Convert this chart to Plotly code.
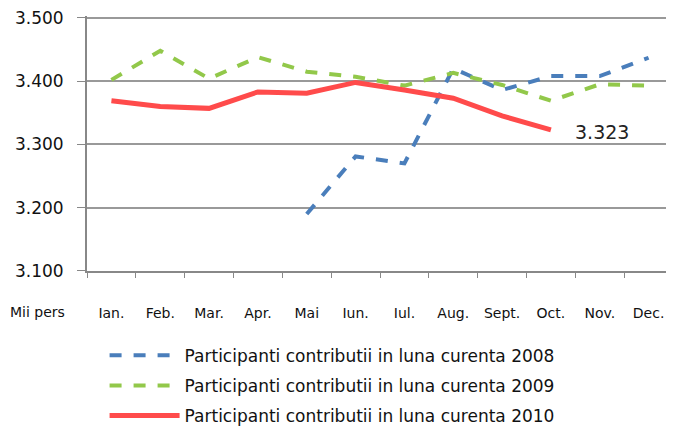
import plotly.graph_objects as go

months = ["Ian.", "Feb.", "Mar.", "Apr.", "Mai", "Iun.", "Iul.", "Aug.", "Sept.", "Oct.", "Nov.", "Dec."]
s2008 = [None, None, None, None, 3.190, 3.281, 3.270, 3.420, 3.386, 3.408, 3.408, 3.437]
s2009 = [3.402, 3.448, 3.404, 3.438, 3.415, 3.407, 3.393, 3.413, 3.394, 3.369, 3.395, 3.393]
s2010 = [3.369, 3.360, 3.357, 3.383, 3.381, 3.398, 3.386, 3.373, 3.345, 3.323, None, None]
names = ["Participanti contributii in luna curenta 2008",
         "Participanti contributii in luna curenta 2009",
         "Participanti contributii in luna curenta 2010"]
yticks = [3.1, 3.2, 3.3, 3.4, 3.5]
last_label = "3.323"

FONT = "DejaVu Sans"
fig = go.Figure()
fig.add_trace(go.Scatter(x=months, y=s2008, mode="lines", name=names[0], legendgroup="a",
                         line=dict(color="#4A7EBB", width=4, dash="dash")))
fig.add_trace(go.Scatter(x=months, y=s2009, mode="lines", name=names[1], legendgroup="b",
                         line=dict(color="#92C84A", width=4, dash="dash")))
fig.add_trace(go.Scatter(x=months, y=s2010, mode="lines", name=names[2], legendgroup="c",
                         line=dict(color="#FF4B4B", width=5)))

PW = 586
PH = 255
fig.add_annotation(x="Oct.", y=s2010[9], text=last_label, showarrow=False, xanchor="left",
                   xshift=22, yshift=-2, font=dict(family=FONT, size=19, color="#222"))
fig.add_annotation(xref="paper", yref="paper", x=-79/PW, y=-41/PH, text="Mii pers",
                   showarrow=False, xanchor="left", yanchor="middle",
                   font=dict(family=FONT, size=14, color="#111"))

fig.update_layout(
    width=666, height=429,
    margin=dict(l=79, r=1, t=8, b=166, autoexpand=False),
    plot_bgcolor="white", paper_bgcolor="white",
    font=dict(family=FONT, color="#111"),
    legend=dict(x=0.030, y=-0.262, xanchor="left", yanchor="top", orientation="v",
                tracegroupgap=5, font=dict(family=FONT, size=17, color="#111"),
                itemwidth=70, bgcolor="rgba(0,0,0,0)"),
    xaxis=dict(type="category", showgrid=False, showline=True, linecolor="#888", linewidth=2,
               ticks="outside", tickson="boundaries", ticklen=5, tickcolor="#888",
               ticklabelstandoff=28, tickfont=dict(family=FONT, size=14, color="#111"),
               range=[-0.5, 11.5], automargin=False, ticklabeloverflow="allow"),
    yaxis=dict(range=[3.0999, 3.503], tickvals=yticks, tickformat=".3f", showgrid=True,
               gridcolor="#999", gridwidth=1.5, showline=True, linecolor="#888", linewidth=2,
               ticks="outside", ticklen=8, tickcolor="#888", zeroline=False, automargin=False,
               ticklabeloverflow="allow",
               ticklabelstandoff=10, tickfont=dict(family=FONT, size=17, color="#111")),
)
fig.write_html("out.html")
